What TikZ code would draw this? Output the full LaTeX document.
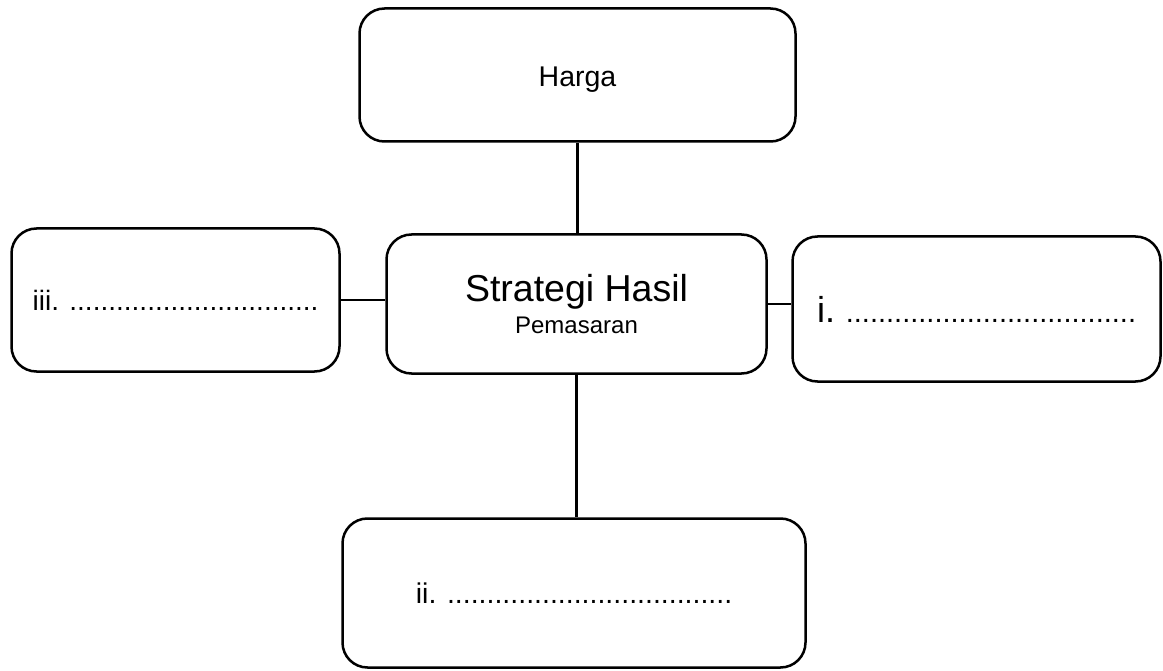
\documentclass[tikz,border=0pt]{standalone}
\usepackage{fontspec}
\setmainfont{Liberation Sans}
\newcommand{\fs}[1]{\fontsize{#1}{#1}\selectfont}
\begin{document}
\begin{tikzpicture}[x=1pt,y=-1pt,
  box/.style={draw=black, line width=2.5pt, rounded corners=25pt, inner sep=0pt, fill=white},
  conn/.style={draw=black, line width=2.5pt}]
\useasboundingbox (0,0) rectangle (1163,671);
\node[box, minimum width=436pt, minimum height=133pt, text depth=0pt] (harga) at (577.5,75) {\fs{28.5}\raisebox{-3pt}{Harga}};
\node[box, minimum width=380pt, minimum height=139pt, align=center] (center) at (576.5,304)
  {\fontsize{37.5}{31}\selectfont Strategi Hasil\\[6pt]\fontsize{24}{31}\selectfont Pemasaran};
\node[box, minimum width=328pt, minimum height=143pt] (left) at (175.5,300)
  {\fs{28}iii. ................................};
\node[box, minimum width=368pt, minimum height=145pt] (right) at (976.5,309)
  {\fs{36}i.\fs{29} ....................................};
\node[box, minimum width=463pt, minimum height=149pt] (bottom) at (574,593)
  {\fs{28.5}ii. ....................................};
\draw[conn] (harga.south) -- (harga.south |- center.north);
\draw[conn] (center.south) -- (center.south |- bottom.north);
\draw[conn] (left.east) -- (left.east -| center.west);
\draw[conn] (center.east) -- (center.east -| right.west);
\end{tikzpicture}
\end{document}
